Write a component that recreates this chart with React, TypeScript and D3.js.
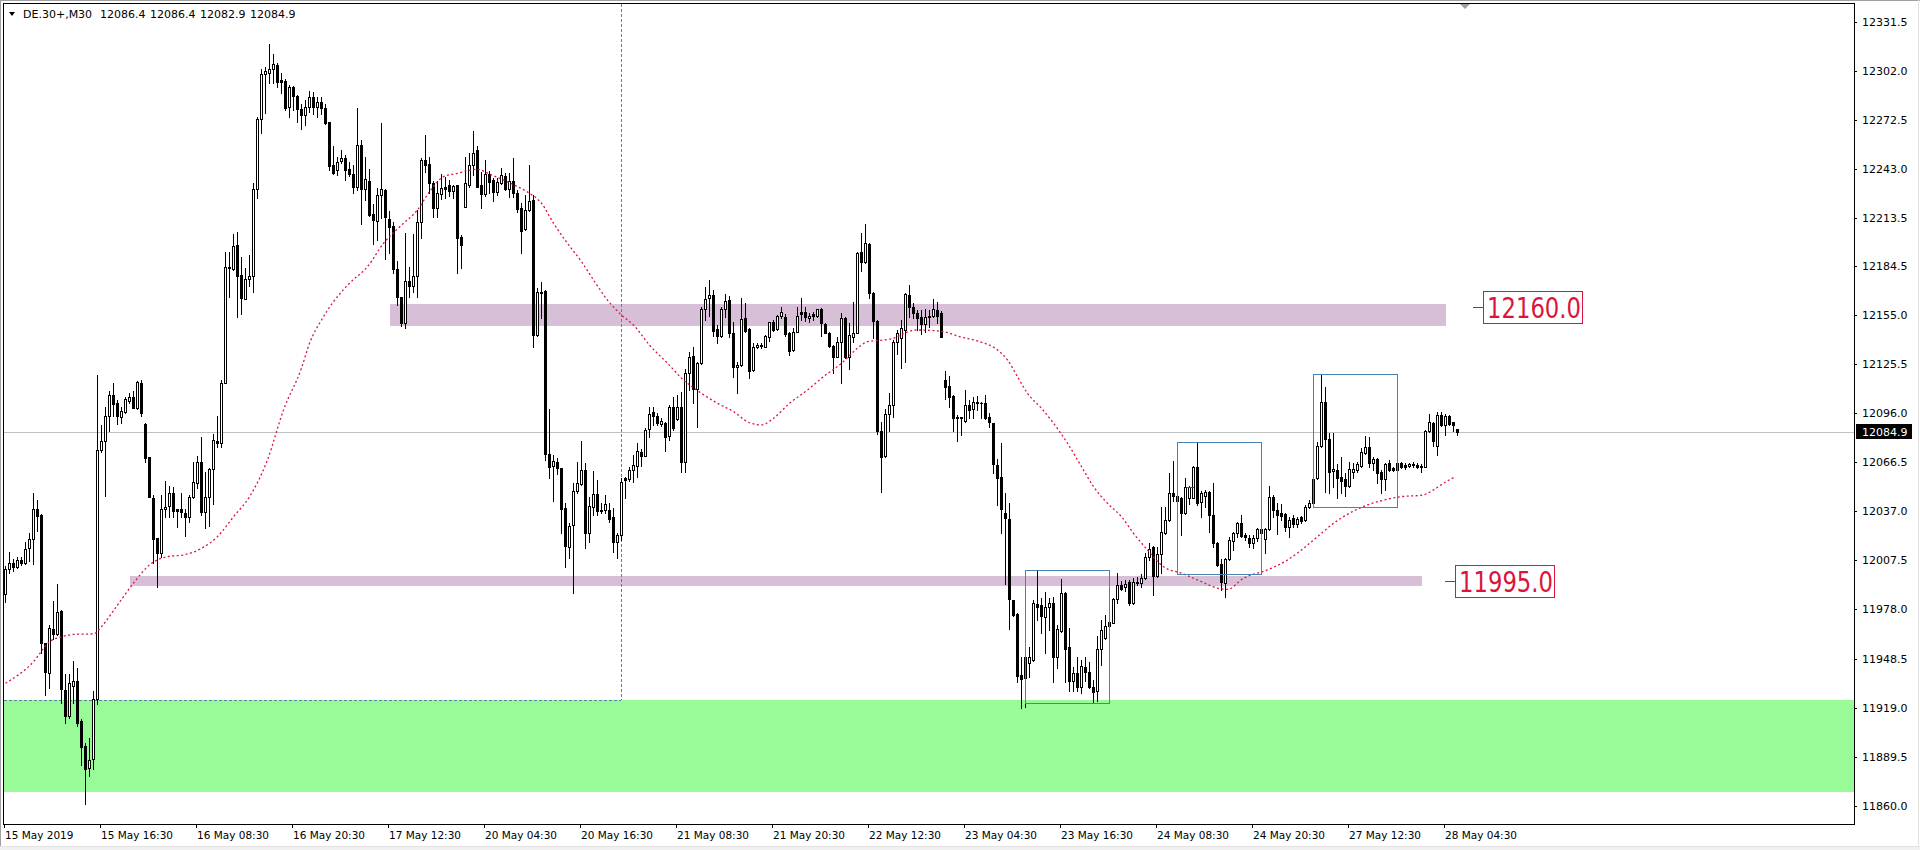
import React from "react";
import * as d3 from "d3";

// ---- header ----
const symbolTitle = "DE.30+,M30";
const lastBarValues = ["12086.4", "12086.4", "12082.9", "12084.9"];
const lastPrice = 12084.9;

// ---- OHLC, M30 bars, [open, high, low, close] ----
const bars15May0430 = [
  [11987.3, 12004.1, 11982.6, 12002.1], [12002.1, 12012.3, 11999.7, 12005.7], [12006.1, 12008.1, 12001.3, 12003.3],
  [12003.7, 12009.3, 12002.7, 12007.5], [12007.7, 12009.7, 12004.7, 12005.7], [12005.7, 12018.7, 12005.3, 12014.1],
  [12014.7, 12023.8, 12007.3, 12020.2], [12020.2, 12047.8, 12005.3, 12038.4], [12038.4, 12043.8, 12025.3, 12034.2],
  [12034.8, 12035.2, 11951.6, 11958.0], [11958.0, 11958.0, 11926.5, 11940.5], [11939.9, 11968.6, 11930.6, 11966.6],
  [11966.0, 11983.1, 11960.4, 11963.0], [11963.0, 11993.3, 11962.6, 11976.3], [11977.0, 11977.5, 11921.5, 11930.0],
  [11929.5, 11939.0, 11909.9, 11913.9], [11913.9, 11939.0, 11912.5, 11933.9], [11932.1, 11947.0, 11921.5, 11934.9],
  [11934.9, 11942.6, 11907.9, 11909.9], [11910.9, 11911.9, 11884.4, 11895.4], [11895.8, 11897.8, 11860.8, 11881.8],
  [11882.4, 11900.8, 11877.8, 11887.4], [11887.8, 11928.9, 11881.8, 11923.9], [11923.9, 12119.0, 11920.9, 12073.9],
];
const bars15May1630 = [
  [12073.9, 12088.9, 12072.7, 12079.3], [12079.3, 12099.9, 12046.4, 12094.3], [12094.3, 12109.4, 12085.3, 12107.0],
  [12107.0, 12114.0, 12094.3, 12101.4], [12101.9, 12104.0, 12089.3, 12094.3], [12093.5, 12099.9, 12090.3, 12097.3],
  [12096.5, 12105.9, 12095.9, 12104.4], [12103.5, 12108.3, 12102.3, 12105.6], [12105.6, 12109.4, 12098.9, 12099.3],
  [12099.3, 12115.5, 12098.7, 12114.6], [12114.0, 12116.0, 12094.3, 12096.0], [12089.5, 12089.9, 12066.8, 12069.2],
  [12069.5, 12069.5, 12045.4, 12045.4], [12045.2, 12046.8, 12005.7, 12020.2], [12020.8, 12021.1, 11991.7, 12011.7],
  [12011.7, 12046.8, 12009.7, 12038.2], [12038.2, 12055.2, 12033.8, 12039.4], [12040.4, 12052.2, 12033.8, 12047.8],
  [12047.8, 12051.8, 12033.8, 12037.4], [12038.2, 12038.2, 12027.7, 12037.4], [12038.2, 12048.2, 12033.8, 12036.4],
  [12035.8, 12038.2, 12022.3, 12033.4], [12033.4, 12046.8, 12030.8, 12045.8], [12045.4, 12066.8, 12044.8, 12054.4],
];
const bars16May0830 = [
  [12053.8, 12070.3, 12051.2, 12066.5], [12066.5, 12081.5, 12034.8, 12036.8], [12036.4, 12060.8, 12027.1, 12045.8],
  [12045.8, 12062.9, 12028.3, 12062.4], [12062.3, 12083.5, 12041.4, 12079.9], [12079.3, 12094.3, 12075.9, 12077.9],
  [12077.9, 12116.0, 12075.9, 12114.0], [12114.3, 12193.1, 12114.0, 12183.8], [12183.8, 12193.1, 12166.1, 12183.2],
  [12182.5, 12203.8, 12182.1, 12196.6], [12197.2, 12205.2, 12153.7, 12178.5], [12179.1, 12190.1, 12155.7, 12165.5],
  [12164.7, 12183.2, 12164.5, 12176.5], [12176.9, 12191.1, 12172.5, 12178.7], [12178.5, 12234.6, 12169.1, 12230.7],
  [12230.7, 12273.9, 12225.6, 12272.9], [12272.8, 12303.0, 12264.3, 12300.0], [12299.8, 12304.0, 12276.7, 12301.8],
  [12300.8, 12318.0, 12294.8, 12302.8], [12302.8, 12312.0, 12294.8, 12306.0], [12305.4, 12306.8, 12292.0, 12295.4],
  [12296.4, 12300.8, 12288.8, 12295.4], [12295.8, 12297.0, 12278.3, 12279.7], [12280.0, 12293.4, 12274.3, 12292.0],
];
const bars16May2030 = [
  [12292.4, 12292.8, 12278.3, 12287.0], [12286.8, 12287.4, 12271.3, 12278.8], [12278.9, 12282.0, 12267.0, 12275.3],
  [12275.3, 12284.4, 12269.3, 12280.1], [12280.1, 12290.0, 12277.0, 12286.0], [12286.0, 12289.0, 12276.0, 12280.0],
  [12280.0, 12286.0, 12274.0, 12283.0], [12283.0, 12286.0, 12276.0, 12279.5], [12279.5, 12282.0, 12269.9, 12270.7],
  [12271.0, 12271.0, 12242.3, 12244.7], [12245.3, 12256.7, 12239.7, 12240.6], [12242.3, 12250.3, 12239.3, 12247.3],
  [12247.9, 12254.3, 12246.3, 12249.3], [12249.3, 12251.3, 12236.2, 12242.3], [12242.9, 12247.3, 12238.7, 12239.7],
  [12239.7, 12245.3, 12228.3, 12231.9], [12232.2, 12279.5, 12230.2, 12257.3], [12257.3, 12260.3, 12209.6, 12230.7],
  [12230.7, 12249.9, 12224.2, 12236.7], [12235.6, 12242.7, 12214.6, 12215.2], [12215.6, 12221.6, 12197.6, 12212.2],
  [12211.6, 12231.3, 12200.2, 12227.2], [12227.2, 12270.3, 12213.2, 12230.7], [12230.2, 12230.8, 12188.6, 12213.8],
];
const bars17May1230 = [
  [12212.8, 12217.6, 12192.2, 12207.8], [12208.6, 12211.2, 12180.5, 12182.5], [12182.5, 12187.5, 12161.1, 12166.1],
  [12165.7, 12165.7, 12148.6, 12150.1], [12150.1, 12204.6, 12147.1, 12175.7], [12175.5, 12184.1, 12166.1, 12172.5],
  [12172.5, 12203.8, 12169.1, 12178.5], [12178.5, 12218.2, 12166.1, 12210.8], [12210.8, 12249.3, 12201.5, 12248.3],
  [12248.3, 12263.3, 12241.2, 12245.3], [12245.9, 12250.3, 12228.3, 12234.3], [12234.3, 12235.8, 12213.8, 12219.2],
  [12219.2, 12235.8, 12214.2, 12228.3], [12227.6, 12239.7, 12224.6, 12231.3], [12232.2, 12238.2, 12225.2, 12230.8],
  [12233.1, 12236.2, 12226.6, 12229.8], [12229.8, 12233.2, 12225.6, 12232.6], [12233.2, 12233.2, 12180.5, 12201.5],
  [12202.2, 12203.2, 12183.5, 12197.2], [12220.2, 12250.3, 12219.8, 12234.6], [12233.2, 12252.7, 12231.9, 12245.3],
  [12245.3, 12265.7, 12239.3, 12252.3], [12254.3, 12256.7, 12231.9, 12232.2], [12233.2, 12241.2, 12219.6, 12227.6],
];
const bars20May0430 = [
  [12227.6, 12248.3, 12226.8, 12239.7], [12239.7, 12241.7, 12228.6, 12235.2], [12236.2, 12237.3, 12223.8, 12228.9],
  [12229.2, 12237.3, 12227.2, 12235.2], [12234.3, 12243.6, 12233.8, 12239.3], [12238.7, 12240.3, 12230.2, 12230.7],
  [12230.7, 12240.6, 12226.2, 12235.6], [12235.6, 12249.3, 12225.8, 12228.6], [12228.3, 12230.2, 12217.2, 12218.8],
  [12219.2, 12222.2, 12192.2, 12205.8], [12206.6, 12227.2, 12206.2, 12218.2], [12218.2, 12245.3, 12217.8, 12223.6],
  [12224.2, 12227.2, 12135.6, 12143.0], [12143.0, 12171.1, 12142.4, 12169.1], [12169.1, 12174.7, 12153.1, 12168.5],
  [12169.5, 12170.1, 12067.9, 12071.3], [12071.3, 12098.5, 12057.2, 12063.5], [12064.3, 12070.9, 12043.4, 12067.3],
  [12066.8, 12068.9, 12059.4, 12062.9], [12062.9, 12062.9, 12023.8, 12038.2], [12038.8, 12041.8, 12003.7, 12016.3],
  [12015.7, 12029.8, 12009.1, 12028.2], [12028.6, 12053.8, 11987.7, 12049.2], [12049.4, 12066.8, 12048.2, 12053.8],
];
const bars20May1630 = [
  [12053.4, 12079.3, 12052.8, 12061.9], [12061.9, 12065.9, 12014.8, 12023.8], [12023.8, 12045.8, 12018.7, 12040.2],
  [12039.4, 12061.4, 12034.8, 12047.4], [12047.4, 12055.8, 12034.8, 12037.2], [12037.8, 12041.8, 12035.8, 12037.2],
  [12037.8, 12046.8, 12035.8, 12041.2], [12037.8, 12041.8, 12030.8, 12032.2], [12033.8, 12038.8, 12012.7, 12018.4],
  [12018.7, 12023.8, 12008.7, 12022.7], [12022.7, 12057.0, 12019.7, 12054.6], [12056.9, 12057.8, 12044.8, 12055.8],
  [12056.3, 12063.5, 12055.4, 12061.9], [12061.9, 12070.9, 12054.8, 12064.9], [12064.4, 12077.9, 12057.8, 12073.3],
  [12072.5, 12074.3, 12064.3, 12070.5], [12070.5, 12086.9, 12070.5, 12085.9], [12086.3, 12099.9, 12081.9, 12095.5],
  [12096.9, 12099.9, 12088.9, 12094.3], [12094.3, 12096.3, 12088.9, 12089.9], [12089.3, 12092.9, 12088.3, 12091.3],
  [12090.3, 12090.9, 12073.5, 12081.9], [12082.5, 12100.9, 12079.9, 12099.9], [12099.9, 12105.9, 12085.9, 12087.3],
];
const bars21May0830 = [
  [12092.3, 12107.0, 12091.9, 12099.5], [12099.9, 12108.9, 12060.8, 12066.8], [12066.5, 12122.4, 12060.8, 12120.0],
  [12120.0, 12133.0, 12110.0, 12130.0], [12130.4, 12136.0, 12102.3, 12110.4], [12110.4, 12127.0, 12087.9, 12126.0],
  [12126.0, 12160.1, 12125.6, 12158.7], [12158.5, 12171.7, 12152.1, 12164.5], [12165.1, 12176.1, 12154.5, 12167.1],
  [12167.1, 12170.1, 12142.6, 12145.6], [12146.6, 12149.0, 12138.0, 12142.4], [12142.4, 12160.1, 12141.6, 12158.5],
  [12158.5, 12167.7, 12153.7, 12163.7], [12164.1, 12166.5, 12141.6, 12144.1], [12144.1, 12151.0, 12118.0, 12123.6],
  [12124.0, 12127.0, 12108.0, 12125.0], [12125.0, 12165.1, 12124.4, 12152.7], [12153.1, 12162.1, 12145.0, 12145.6],
  [12146.4, 12147.1, 12117.4, 12121.6], [12122.0, 12138.0, 12121.6, 12136.0], [12135.6, 12138.0, 12135.0, 12137.0],
  [12137.0, 12138.0, 12135.0, 12136.4], [12136.0, 12143.0, 12135.6, 12142.6], [12142.0, 12151.0, 12139.6, 12150.7],
];
const bars21May2030 = [
  [12150.7, 12152.1, 12145.6, 12146.0], [12146.4, 12155.1, 12146.0, 12154.5], [12154.5, 12160.1, 12153.1, 12157.1],
  [12153.7, 12155.7, 12142.4, 12143.6], [12144.4, 12145.0, 12131.0, 12133.6], [12134.0, 12147.1, 12133.6, 12145.0],
  [12145.0, 12160.1, 12144.7, 12154.6], [12156.7, 12165.1, 12152.1, 12155.7], [12156.7, 12160.1, 12151.4, 12153.7],
  [12153.4, 12156.1, 12151.0, 12154.6], [12155.5, 12156.7, 12152.1, 12154.6], [12154.5, 12158.7, 12154.0, 12158.5],
  [12158.5, 12159.1, 12142.4, 12150.1], [12149.6, 12150.4, 12144.1, 12144.4], [12144.4, 12145.0, 12135.6, 12136.4],
  [12136.4, 12137.0, 12120.4, 12130.0], [12130.0, 12142.0, 12129.6, 12138.6], [12138.6, 12156.1, 12114.0, 12153.1],
  [12153.1, 12154.0, 12129.0, 12129.6], [12129.6, 12150.1, 12122.4, 12143.0], [12142.0, 12163.1, 12139.0, 12144.1],
  [12144.1, 12193.1, 12144.1, 12192.5], [12193.1, 12204.6, 12181.7, 12186.8], [12186.8, 12209.6, 12186.5, 12198.2],
];
const bars22May1230 = [
  [12197.8, 12198.2, 12165.1, 12168.1], [12168.1, 12169.1, 12141.0, 12151.6], [12151.6, 12152.1, 12083.5, 12085.5],
  [12085.5, 12090.9, 12048.8, 12069.8], [12070.3, 12098.3, 12069.8, 12095.5], [12095.5, 12108.0, 12085.5, 12100.9],
  [12100.9, 12140.0, 12093.5, 12139.0], [12139.0, 12146.0, 12131.6, 12144.4], [12141.4, 12152.1, 12123.4, 12147.1],
  [12146.0, 12168.5, 12127.0, 12167.7], [12167.1, 12173.1, 12153.7, 12160.1], [12160.1, 12162.1, 12153.1, 12156.1],
  [12156.1, 12158.1, 12146.0, 12153.1], [12154.0, 12158.1, 12143.6, 12149.6], [12149.6, 12158.5, 12145.0, 12154.0],
  [12153.7, 12158.1, 12148.0, 12154.5], [12154.5, 12164.5, 12154.0, 12158.5], [12158.1, 12163.1, 12150.1, 12154.5],
  [12156.1, 12157.5, 12141.8, 12142.0], [12116.0, 12121.4, 12104.5, 12112.0], [12112.4, 12118.4, 12099.9, 12106.0],
  [12106.4, 12107.0, 12085.5, 12092.9], [12092.9, 12094.9, 12079.5, 12093.9], [12093.5, 12093.9, 12082.9, 12092.9],
];
const bars23May0430 = [
  [12091.5, 12110.0, 12090.9, 12100.9], [12100.9, 12104.0, 12092.9, 12097.9], [12098.3, 12105.9, 12092.9, 12102.9],
  [12102.9, 12106.3, 12097.9, 12102.3], [12102.3, 12102.9, 12092.9, 12101.9], [12101.9, 12107.0, 12092.3, 12092.9],
  [12093.9, 12096.0, 12087.9, 12090.9], [12089.9, 12090.3, 12060.2, 12065.3], [12064.9, 12068.3, 12040.8, 12056.9],
  [12057.5, 12078.3, 12023.8, 12038.2], [12036.2, 12047.8, 11993.1, 12032.8], [12032.2, 12041.8, 11966.0, 11984.1],
  [11983.7, 11983.7, 11974.0, 11974.6], [11975.1, 11975.7, 11934.5, 11938.0], [11938.6, 11949.6, 11918.5, 11936.0],
  [11936.9, 11950.0, 11919.5, 11949.6], [11946.0, 11955.6, 11937.2, 11949.2], [11947.6, 11983.7, 11947.2, 11981.7],
  [11981.1, 12001.3, 11971.6, 11979.6], [11980.7, 11984.7, 11963.6, 11974.0], [11973.6, 11988.7, 11951.6, 11979.6],
  [11979.6, 11984.7, 11965.6, 11981.7], [11982.0, 11985.6, 11934.5, 11949.2], [11949.2, 11968.6, 11942.6, 11966.0],
];
const bars23May1630 = [
  [11965.2, 11996.1, 11964.6, 11988.1], [11988.1, 11988.7, 11934.5, 11954.0], [11955.2, 11966.6, 11929.1, 11935.1],
  [11935.1, 11943.5, 11929.1, 11939.9], [11939.6, 11949.6, 11929.1, 11931.5], [11931.5, 11947.6, 11927.9, 11944.0],
  [11943.5, 11949.2, 11935.1, 11940.5], [11940.5, 11946.6, 11930.6, 11931.2], [11931.5, 11935.5, 11922.5, 11928.5],
  [11929.1, 11962.0, 11923.1, 11954.0], [11954.0, 11971.6, 11944.6, 11965.6], [11960.7, 11974.6, 11960.1, 11968.0],
  [11968.0, 11973.6, 11967.4, 11970.6], [11970.0, 11984.7, 11969.6, 11984.1], [11984.1, 11999.7, 11981.7, 11992.7],
  [11992.7, 11995.3, 11989.7, 11990.1], [11991.7, 11995.7, 11989.3, 11993.3], [11994.7, 11995.7, 11980.7, 11981.7],
  [11981.7, 11996.7, 11981.3, 11994.7], [11994.7, 11997.7, 11992.7, 11993.7], [11993.7, 11999.3, 11991.7, 11996.7],
  [11996.7, 12012.1, 11996.1, 12009.3], [12009.7, 12017.8, 12007.7, 12014.1], [12015.4, 12016.1, 11986.7, 11998.1],
];
const bars24May0830 = [
  [11998.1, 12015.4, 11997.7, 12011.3], [12011.3, 12039.4, 12000.1, 12024.4], [12023.8, 12039.4, 12023.4, 12031.8],
  [12031.8, 12060.2, 12031.4, 12047.8], [12047.8, 12067.3, 12043.2, 12046.4], [12043.4, 12046.8, 12043.2, 12046.4],
  [12044.8, 12045.4, 12022.7, 12035.8], [12035.8, 12056.9, 12035.4, 12051.8], [12045.2, 12052.2, 12041.2, 12051.8],
  [12045.2, 12064.2, 12044.8, 12063.8], [12063.8, 12078.3, 12040.8, 12041.8], [12042.8, 12049.4, 12033.4, 12047.8],
  [12046.4, 12049.8, 12039.8, 12048.8], [12048.8, 12049.4, 12024.7, 12034.8], [12034.8, 12053.8, 12015.7, 12018.1],
  [12018.1, 12018.5, 12004.1, 12004.7], [12005.3, 12008.1, 11989.7, 11994.7], [11994.1, 12008.7, 11985.3, 12008.1],
  [12008.1, 12021.7, 12007.7, 12019.7], [12019.3, 12024.7, 12013.7, 12023.8], [12023.8, 12030.8, 12021.7, 12029.8],
  [12029.8, 12034.8, 12021.7, 12022.2], [12022.7, 12023.8, 12019.7, 12021.7], [12020.8, 12022.7, 12015.4, 12018.1],
];
const bars24May2030 = [
  [12018.1, 12022.7, 12014.8, 12020.8], [12020.8, 12026.8, 12019.3, 12026.2], [12023.8, 12026.8, 12023.4, 12026.2],
  [12020.2, 12026.8, 12011.7, 12026.2], [12026.2, 12052.2, 12025.8, 12045.4], [12045.8, 12046.8, 12033.8, 12037.8],
  [12037.8, 12041.8, 12023.4, 12034.8], [12035.8, 12041.4, 12031.8, 12034.2], [12035.4, 12036.2, 12025.3, 12027.4],
  [12027.4, 12033.8, 12021.7, 12031.8], [12032.8, 12034.8, 12027.4, 12029.2], [12029.2, 12033.8, 12027.7, 12032.2],
  [12033.4, 12034.2, 12030.2, 12031.4], [12031.8, 12040.8, 12031.4, 12039.8], [12039.4, 12043.8, 12038.8, 12041.8],
  [12041.8, 12056.9, 12041.4, 12056.4], [12056.8, 12078.9, 12056.3, 12076.3], [12076.3, 12119.0, 12075.9, 12102.6],
  [12102.9, 12111.9, 12048.8, 12080.5], [12080.5, 12083.9, 12048.2, 12060.8], [12061.4, 12084.3, 12051.8, 12062.4],
  [12061.9, 12065.5, 12044.8, 12056.9], [12057.8, 12069.9, 12047.8, 12055.4], [12056.4, 12059.9, 12046.2, 12052.2],
];
const bars27May1230 = [
  [12052.2, 12066.8, 12051.4, 12062.3], [12060.8, 12065.9, 12056.9, 12062.4], [12061.9, 12066.8, 12060.8, 12065.5],
  [12064.3, 12074.9, 12063.8, 12072.5], [12072.3, 12082.3, 12071.5, 12075.5], [12075.5, 12081.9, 12063.5, 12065.9],
  [12065.9, 12069.9, 12061.9, 12068.3], [12068.3, 12068.9, 12053.8, 12059.9], [12060.8, 12061.9, 12048.2, 12056.3],
  [12056.4, 12065.9, 12049.8, 12065.5], [12065.9, 12067.9, 12061.4, 12061.9], [12062.9, 12063.5, 12061.2, 12061.9],
  [12061.9, 12066.2, 12061.4, 12065.9], [12065.9, 12066.8, 12062.9, 12063.8], [12064.9, 12066.2, 12062.3, 12063.8],
  [12064.3, 12065.9, 12063.8, 12065.3], [12065.5, 12066.7, 12063.8, 12064.7], [12064.9, 12065.9, 12062.9, 12063.8],
  [12064.3, 12065.5, 12060.8, 12063.5], [12063.8, 12085.9, 12063.5, 12085.3], [12085.3, 12095.5, 12084.9, 12090.9],
  [12090.3, 12090.9, 12076.3, 12079.3], [12076.5, 12096.9, 12070.9, 12094.9], [12094.9, 12096.9, 12088.3, 12088.9],
];
const bars28May0430 = [
  [12088.9, 12095.5, 12082.9, 12094.3], [12094.3, 12094.9, 12088.9, 12089.3], [12090.7, 12090.9, 12085.3, 12088.7],
  [12086.4, 12086.4, 12082.9, 12084.9],
];

// ---- moving average (red dotted), [bar, price] ----
const maPoints = [
  [0, 11933.6], [7, 11946.6], [11, 11958.6], [14, 11961.6], [17.5, 11963.1], [22, 11963.3], [24, 11967.7],
  [28, 11980.7], [32, 11993.8], [36, 12004.8], [40.5, 12009.8], [44.5, 12010.8], [49, 12014.8], [53, 12021.8],
  [57, 12033.8], [61, 12045.8], [65.5, 12068.0], [69.5, 12098.0], [74, 12123.2], [76, 12138.1], [79, 12152.1],
  [82, 12163.1], [86, 12174.2], [90.5, 12184.2], [94.5, 12198.2], [99, 12209.2], [103, 12218.3], [106, 12229.3],
  [109.5, 12238.3], [113, 12240.3], [115.5, 12241.9], [118, 12242.7], [121, 12239.9], [124.5, 12236.3],
  [128, 12232.3], [131, 12228.3], [134, 12222.3], [137, 12210.3], [140.5, 12198.2], [144, 12187.2], [147, 12176.2],
  [150.5, 12164.1], [154, 12155.1], [157, 12149.1], [161, 12137.0], [165.5, 12126.1], [169.5, 12116.0],
  [174, 12108.0], [178, 12102.0], [182, 12097.0], [186, 12090.3], [189, 12089.0], [192, 12093.0], [196, 12102.0],
  [200.5, 12110.0], [204.5, 12118.0], [209, 12126.1], [213, 12135.1], [215.5, 12139.1], [219.5, 12140.1],
  [222, 12141.1], [225.5, 12144.9], [228, 12146.1], [232, 12145.7], [234.5, 12145.1], [238.5, 12142.1],
  [243.5, 12139.1], [248, 12134.1], [250.5, 12128.1], [253, 12118.0], [255.5, 12108.0], [259, 12099.0],
  [262, 12090.0], [265.5, 12078.0], [269, 12063.9], [272, 12051.9], [275.5, 12041.9], [279, 12033.8],
  [282, 12023.8], [285.5, 12013.8], [289.5, 12003.7], [294, 11999.8], [299, 11994.7], [303, 11990.8],
  [305.5, 11990.1], [309.5, 11996.8], [315.5, 12001.8], [320.5, 12007.8], [324.5, 12014.8], [328, 12021.8],
  [332, 12029.8], [336, 12035.9], [340.5, 12040.9], [345.5, 12044.3], [349, 12045.9], [354, 12046.7],
  [357, 12049.9], [359.5, 12053.9], [362, 12057.3],
];

// ---- axis labels ----
const priceTickLabels = [
  "12331.5", "12302.0", "12272.5", "12243.0", "12213.5", "12184.5", "12155.0", "12125.5", "12096.0",
  "12066.5", "12037.0", "12007.5", "11978.0", "11948.5", "11919.0", "11889.5", "11860.0",
];
const timeTickLabels = [
  "15 May 2019", "15 May 16:30", "16 May 08:30", "16 May 20:30", "17 May 12:30", "20 May 04:30",
  "20 May 16:30", "21 May 08:30", "21 May 20:30", "22 May 12:30", "23 May 04:30", "23 May 16:30",
  "24 May 08:30", "24 May 20:30", "27 May 12:30", "28 May 04:30",
];
const timeTickBars = [0, 24, 48, 72, 96, 120, 144, 168, 192, 216, 240, 264, 288, 312, 336, 360];

// ---- drawn objects ----
const supportZone = { top: 11923.5, bottom: 11868.4 };
const levelBands = [
  { fromBar: 96, toBar: 360, top: 12161.6, bottom: 12148.6, label: "12160.0", level: 12160.0, labelBar: 367 },
  { fromBar: 31, toBar: 354, top: 11998.2, bottom: 11992.4, label: "11995.0", level: 11995.0, labelBar: 360 },
];
const boxes = [
  { fromBar: 255, toBar: 276, top: 12001.5, bottom: 11921.5 },
  { fromBar: 293, toBar: 314, top: 12079.0, bottom: 11999.3 },
  { fromBar: 327, toBar: 348, top: 12119.4, bottom: 12039.6 },
];
const crosshair = { bar: 154, price: 11923.5 };

export default function App() {
  const candles = [
    ...bars15May0430, ...bars15May1630, ...bars16May0830, ...bars16May2030, ...bars17May1230,
    ...bars20May0430, ...bars20May1630, ...bars21May0830, ...bars21May2030, ...bars22May1230,
    ...bars23May0430, ...bars23May1630, ...bars24May0830, ...bars24May2030, ...bars27May1230,
    ...bars28May0430,
  ];
  const W = 1920, H = 850;
  const pl = 4, pr = 1854, pt = 4, pb = 824;
  const y = d3.scaleLinear().domain([11860, 12331.5]).range([805.7, 21.7]);
  const x = d3.scaleLinear().domain([0, candles.length - 1]).range([5.5, 1457.5]);
  const font = "'DejaVu Sans', Verdana, sans-serif";

  const maLine = d3.line<number[]>()
    .x((d) => x(d[0]))
    .y((d) => y(d[1]))
    .curve(d3.curveMonotoneX)(maPoints as any) || "";

  const candleEls = candles.map((d, i) => {
    const [o, h, l, c] = d;
    const col = Math.floor(x(i));
    const yh = Math.round(y(h));
    const yl = Math.round(y(l));
    const yt = Math.round(y(Math.max(o, c)));
    const yb = Math.round(y(Math.min(o, c)));
    const up = c > o;
    return (
      <g key={i}>
        <rect x={col} y={yh} width={1} height={Math.max(1, yl - yh + 1)} fill="#000" />
        <rect x={col - 1} y={yt} width={3} height={yb - yt + 1} fill="#000" />
        {up && yb - yt >= 2 ? <rect x={col} y={yt + 1} width={1} height={yb - yt - 1} fill="#fff" /> : null}
      </g>
    );
  });

  const yLast = Math.round(y(lastPrice));

  return (
    <div style={{ position: "absolute", left: 0, top: 0, width: W, height: H, background: "#fff" }}>
      <svg width={W} height={H} style={{ display: "block" }} fontFamily={font}>
        <rect x={0} y={0} width={W} height={H} fill="#fff" />
        {/* window frame */}
        <line x1={0} y1={0.5} x2={W} y2={0.5} stroke="#a0a0a0" />
        <line x1={0.5} y1={0} x2={0.5} y2={H} stroke="#a0a0a0" />
        <rect x={0} y={847} width={W} height={3} fill="#f0f0f0" />
        <line x1={0} y1={846.5} x2={W} y2={846.5} stroke="#e3e3e3" />
        <line x1={1918.5} y1={0} x2={1918.5} y2={847} stroke="#e3e3e3" />

        <g shapeRendering="crispEdges">
          {/* support zone */}
          <rect x={pl} y={y(supportZone.top)} width={pr - pl} height={y(supportZone.bottom) - y(supportZone.top)} fill="#98FB98" />
          {/* level bands */}
          {levelBands.map((b, k) => (
            <rect key={k} x={x(b.fromBar)} y={y(b.top)} width={x(b.toBar) - x(b.fromBar)} height={y(b.bottom) - y(b.top)} fill="#D8BFD8" />
          ))}
          {/* last price line */}
          <line x1={pl} x2={pr} y1={yLast + 0.5} y2={yLast + 0.5} stroke="#c0c0c0" />
          {/* crosshair */}
          <line x1={Math.floor(x(crosshair.bar)) + 0.5} x2={Math.floor(x(crosshair.bar)) + 0.5} y1={pt} y2={Math.round(y(crosshair.price))} stroke="#5a7fa8" strokeDasharray="3,2" />
          <line x1={pl} x2={Math.floor(x(crosshair.bar))} y1={Math.round(y(crosshair.price)) + 0.5} y2={Math.round(y(crosshair.price)) + 0.5} stroke="#5a7fa8" strokeDasharray="3,2" />
          {candleEls}
        </g>

        {/* moving average */}
        <path d={maLine} fill="none" stroke="#DC143C" strokeWidth={1.3} strokeDasharray="2,2.5" />

        {/* red marker */}
        <line x1={x(295.2)} x2={x(297)} y1={Math.round(y(12051.8)) + 0.5} y2={Math.round(y(12051.8)) + 0.5} stroke="#ff0000" shapeRendering="crispEdges" />

        {/* boxes */}
        {boxes.map((b, k) => (
          <rect key={k} x={Math.floor(x(b.fromBar)) + 0.5} y={Math.round(y(b.top)) + 0.5}
            width={Math.floor(x(b.toBar)) - Math.floor(x(b.fromBar))} height={Math.round(y(b.bottom)) - Math.round(y(b.top))}
            fill="none" stroke="#4682B4" shapeRendering="crispEdges" />
        ))}

        {/* level labels */}
        {levelBands.map((b, k) => {
          const x0 = Math.floor(x(b.labelBar));
          const yc = Math.round(y(b.level));
          return (
            <g key={k}>
              <line x1={x0} x2={x0 + 10} y1={yc + 0.5} y2={yc + 0.5} stroke="#DC143C" shapeRendering="crispEdges" />
              <rect x={x0 + 10.5} y={yc - 15.5} width={99} height={32} fill="#fff" stroke="#DC143C" shapeRendering="crispEdges" />
              <text x={x0 + 14} y={yc + 11} fontSize={28} fill="#DC143C" textLength={94} lengthAdjust="spacingAndGlyphs">{b.label}</text>
            </g>
          );
        })}

        {/* chart frame */}
        <rect x={pl - 0.5} y={pt - 0.5} width={pr - pl + 1} height={pb - pt + 0.5} fill="none" stroke="#000" shapeRendering="crispEdges" />

        {/* price axis */}
        {priceTickLabels.map((t, k) => {
          const yy = Math.round(y(+t));
          return (
            <g key={k}>
              <line x1={pr} x2={pr + 3} y1={yy + 0.5} y2={yy + 0.5} stroke="#000" shapeRendering="crispEdges" />
              <text x={1862} y={yy + 4} fontSize={11} fill="#000">{t}</text>
            </g>
          );
        })}
        <rect x={1856} y={yLast - 8} width={56} height={15} fill="#000" />
        <text x={1862} y={yLast + 4} fontSize={11} fill="#fff">{lastPrice.toFixed(1)}</text>

        {/* time axis */}
        {timeTickLabels.map((t, k) => {
          const xx = Math.floor(x(timeTickBars[k])) - 1;
          return (
            <g key={k}>
              <line x1={xx + 0.5} x2={xx + 0.5} y1={pb} y2={pb + 4} stroke="#000" shapeRendering="crispEdges" />
              <text x={xx + 1} y={839} fontSize={10.5} fill="#000">{t}</text>
            </g>
          );
        })}

        {/* shift marker */}
        <path d="M1460,4 L1470,4 L1465,9 Z" fill="#a0a0a0" />

        {/* header */}
        <path d="M9,12 L15,12 L12,16 Z" fill="#000" />
        <text x={23} y={18} fontSize={11} fill="#000">{symbolTitle}</text>
        {lastBarValues.map((v, k) => (
          <text key={k} x={100 + 50 * k} y={18} fontSize={11} fill="#000">{v}</text>
        ))}
      </svg>
    </div>
  );
}
